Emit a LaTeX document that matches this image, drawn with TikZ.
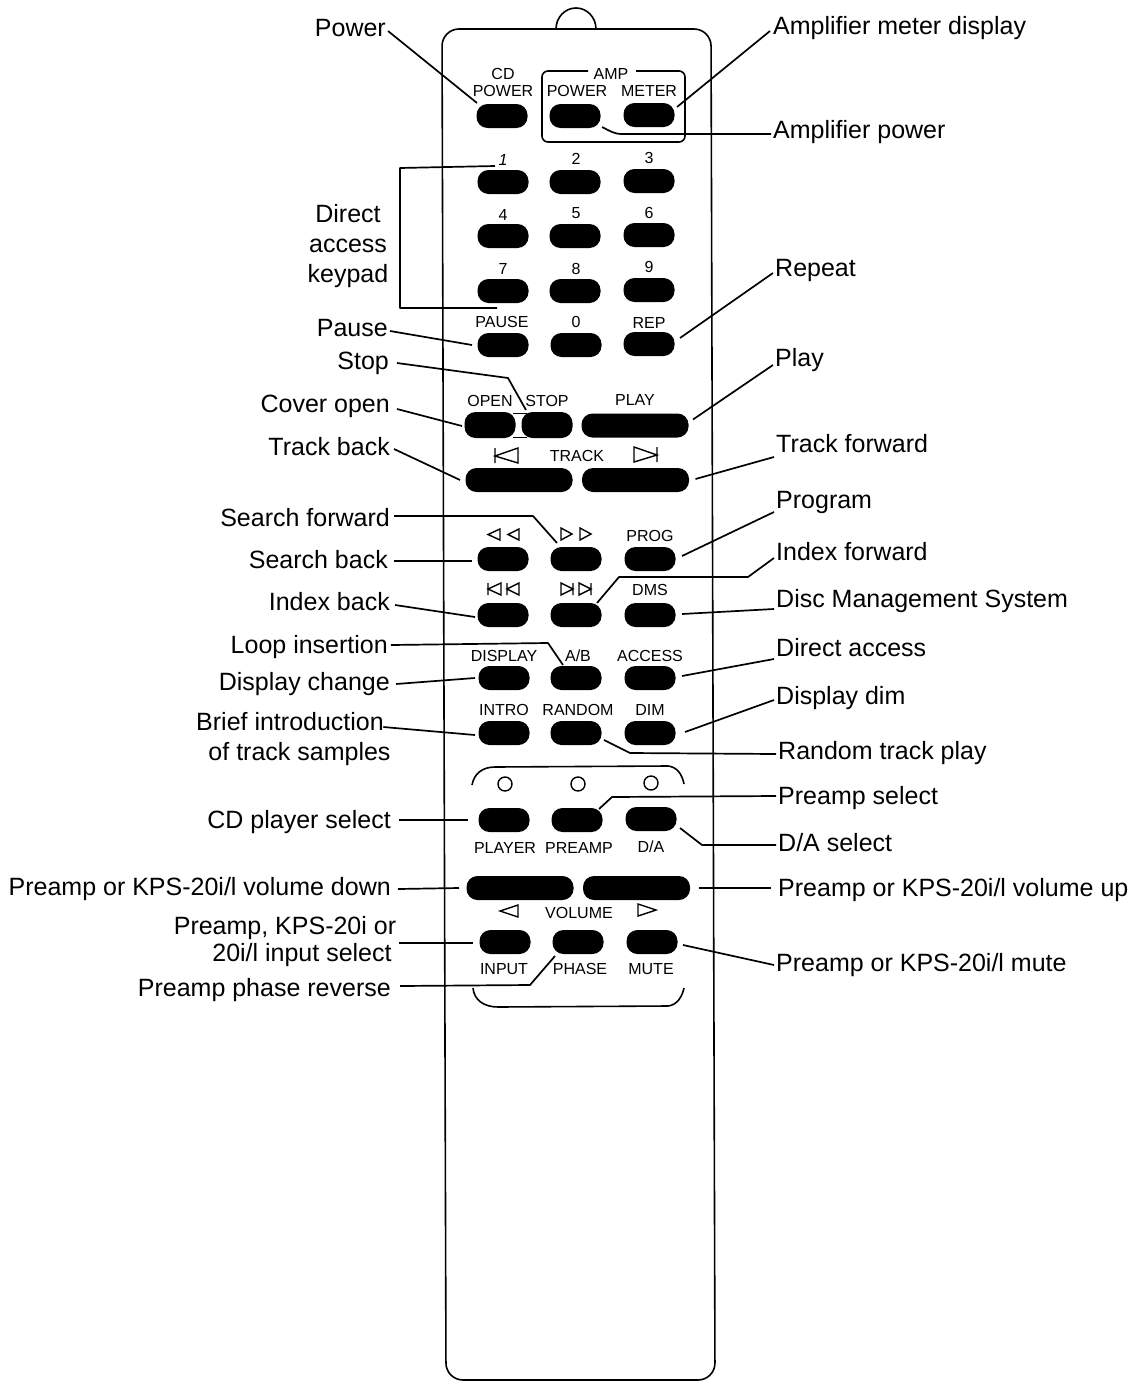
\documentclass[tikz,border=0pt]{standalone}
\usepackage{fontspec}
\setmainfont{Liberation Sans}
\tikzset{
  btn/.style={fill=black,draw=none,rounded corners=11pt,inner sep=0pt,minimum height=24pt,minimum width=51pt},
  wbtn/.style={btn,minimum width=107pt},
  lab/.style={font=\fontsize{25}{30}\selectfont,inner sep=1pt,text height=20pt,text depth=3pt,align=center},
  labl/.style={lab,anchor=east},
  labr/.style={lab,anchor=west},
  keytxt/.style={font=\fontsize{16}{17}\selectfont,inner sep=0pt,text height=11.5pt,text depth=0pt},
  conn/.style={draw=black,line width=1.7pt,line join=round},
  outl/.style={draw=black,line width=1.6pt,line join=round},
  ico/.style={draw=black,line width=1.4pt,line join=miter}
}
\begin{document}
\begin{tikzpicture}[x=1pt,y=-1pt]
\useasboundingbox (0,0) rectangle (1136,1381);
% body
\draw[outl,rounded corners=17pt] (442,29) -- (711,29) -- (715,1380) -- (446,1380) -- cycle;
\draw[outl] (556,29) arc[start angle=180,end angle=0,x radius=20,y radius=-21];
% amp box
\draw[outl,rounded corners=6pt] (588,71) -- (542,71) -- (542,142) -- (685,142) -- (685,71) -- (636,71);
% brackets
\draw[outl] (472,785) .. controls (474,774) and (482,767) .. (495,767) -- (668,766) .. controls (677,767) and (682,774) .. (684,784);
\draw[outl] (473,988) .. controls (474,1000) and (484,1007) .. (498,1007) -- (668,1006) .. controls (677,1005) and (682,997) .. (684,988);
% LEDs
\node[draw=black,line width=1.4pt,circle,minimum size=14pt,inner sep=0pt] (led1) at (505,784) {};
\node[draw=black,line width=1.4pt,circle,minimum size=14pt,inner sep=0pt] (led2) at (578,784) {};
\node[draw=black,line width=1.4pt,circle,minimum size=14pt,inner sep=0pt] (led3) at (651,783) {};
% buttons
\node[btn] (bcd) at (502,116) {};
\node[btn] (bamp) at (575,116) {};
\node[btn] (bmet) at (649,115) {};
\node[btn] (b1) at (503,182) {};
\node[btn] (b2) at (575,182) {};
\node[btn] (b3) at (649,181) {};
\node[btn] (b4) at (503,236) {};
\node[btn] (b5) at (575,236) {};
\node[btn] (b6) at (649,235) {};
\node[btn] (b7) at (503,291) {};
\node[btn] (b8) at (575,291) {};
\node[btn] (b9) at (649,290) {};
\node[btn] (bpause) at (503,345) {};
\node[btn] (b0) at (576,345) {};
\node[btn] (brep) at (649,344) {};
\draw[line width=1pt] (513,413.5) -- (527,413.5) (513,437.5) -- (527,437.5);
\node[btn,minimum height=26pt] (bopen) at (490,425) {};
\node[btn,minimum height=26pt] (bstop) at (547,425) {};
\node[wbtn] (bplay) at (635,425.5) {};
\node[wbtn] (btb) at (519,480) {};
\node[wbtn] (btf) at (635.5,480) {};
\node[btn] (bsb) at (503,559) {};
\node[btn] (bsf) at (576,559) {};
\node[btn] (bprog) at (650,559) {};
\node[btn] (bib) at (503,615) {};
\node[btn] (bif) at (576,615) {};
\node[btn] (bdms) at (650,615) {};
\node[btn] (bdisp) at (504,678) {};
\node[btn] (bab) at (576,678) {};
\node[btn] (bacc) at (650,678) {};
\node[btn] (bintro) at (504,733) {};
\node[btn] (brand) at (576,733) {};
\node[btn] (bdim) at (650,733) {};
\node[btn] (bplayer) at (504,820) {};
\node[btn] (bpre) at (577,820) {};
\node[btn] (bda) at (651,819) {};
\node[wbtn] (bvd) at (520,888) {};
\node[wbtn] (bvu) at (636.5,888) {};
\node[btn] (binp) at (505,942) {};
\node[btn] (bpha) at (578,942) {};
\node[btn] (bmut) at (652,942) {};
% key texts
\node[keytxt,anchor=base] (t01) at (503,79) {CD};
\node[keytxt,anchor=base] (t02) at (503,96) {POWER};
\node[keytxt,anchor=base] (t03) at (611,80) {AMP};
\node[keytxt,anchor=base] (t04) at (577,96) {POWER};
\node[keytxt,anchor=base] (t05) at (649,96) {METER};
\node[keytxt,anchor=base] (t06) at (503,165) {\itshape 1};
\node[keytxt,anchor=base] (t07) at (576,164) {2};
\node[keytxt,anchor=base] (t08) at (649,163) {3};
\node[keytxt,anchor=base] (t09) at (503,220) {4};
\node[keytxt,anchor=base] (t10) at (576,218) {5};
\node[keytxt,anchor=base] (t11) at (649,218) {6};
\node[keytxt,anchor=base] (t12) at (503,274) {7};
\node[keytxt,anchor=base] (t13) at (576,274) {8};
\node[keytxt,anchor=base] (t14) at (649,272) {9};
\node[keytxt,anchor=base] (t15) at (502,327) {PAUSE};
\node[keytxt,anchor=base] (t16) at (576,327) {0};
\node[keytxt,anchor=base] (t17) at (649,328) {REP};
\node[keytxt,anchor=base] (t18) at (490,406) {OPEN};
\node[keytxt,anchor=base] (t19) at (547,406) {STOP};
\node[keytxt,anchor=base] (t20) at (635,405) {PLAY};
\node[keytxt,anchor=base] (t21) at (577,461) {TRACK};
\node[keytxt,anchor=base] (t22) at (650,541) {PROG};
\node[keytxt,anchor=base] (t23) at (650,595) {DMS};
\node[keytxt,anchor=base] (t24) at (504,661) {DISPLAY};
\node[keytxt,anchor=base] (t25) at (578,661) {A/B};
\node[keytxt,anchor=base] (t26) at (650,661) {ACCESS};
\node[keytxt,anchor=base] (t27) at (504,715) {INTRO};
\node[keytxt,anchor=base] (t28) at (578,715) {RANDOM};
\node[keytxt,anchor=base] (t29) at (650,715) {DIM};
\node[keytxt,anchor=base] (t30) at (505,853) {PLAYER};
\node[keytxt,anchor=base] (t31) at (579,853) {PREAMP};
\node[keytxt,anchor=base] (t32) at (651,852) {D/A};
\node[keytxt,anchor=base] (t33) at (579,918) {VOLUME};
\node[keytxt,anchor=base] (t34) at (504,974) {INPUT};
\node[keytxt,anchor=base] (t35) at (580,974) {PHASE};
\node[keytxt,anchor=base] (t36) at (651,974) {MUTE};
% icons
\draw[ico] (495,448) -- (495,463) (495,456) -- (518,448) -- (518,463) -- cycle;
\draw[ico] (634,447) -- (657,455) -- (634,462) -- cycle (657,447) -- (657,462);
\draw[ico] (488,534.5) -- (500,529) -- (500,540) -- cycle (508,534.5) -- (519,529) -- (519,540) -- cycle;
\draw[ico] (561,528) -- (572,534) -- (561,540) -- cycle (580,528) -- (591,534) -- (580,540) -- cycle;
\draw[ico] (488,583) -- (488,595) (488,589) -- (501,583) -- (501,595) -- cycle (507,583) -- (507,595) (507,589) -- (519,583) -- (519,595) -- cycle;
\draw[ico] (561,583) -- (573,589) -- (561,595) -- cycle (573,583) -- (573,595) (579,583) -- (591,589) -- (579,595) -- cycle (591,583) -- (591,595);
\draw[ico] (500,911) -- (518,905) -- (518,917) -- cycle;
\draw[ico] (638,904) -- (656,910) -- (638,916) -- cycle;
% labels left
\node[labl] (lpow) at (387,28) {Power};
\node[lab] (lkey) at (348,274) {Direct\\access\\keypad};
\node[labl] (lpause) at (389,328) {Pause};
\node[labl] (lstop) at (390,361) {Stop};
\node[labl] (lcov) at (391,404) {Cover open};
\node[labl] (ltb) at (391,447) {Track back};
\node[labl] (lsf) at (391,518) {Search forward};
\node[labl] (lsb) at (389,560) {Search back};
\node[labl] (lib) at (391,602) {Index back};
\node[labl] (lloop) at (389,645) {Loop insertion};
\node[labl] (ldc) at (391,682) {Display change};
\node[lab] (lbrief) at (290,752) {Brief introduction\\\hspace*{19pt}of track samples};
\node[lab] (linp) at (285,953) {Preamp, KPS-20i or\\[-3pt]\hspace*{34pt}20i/l input select};
\node[labl] (lcdp) at (392,820) {CD player select};
\node[labl] (lvd) at (392,887) {Preamp or KPS-20i/l volume down};
\node[labl] (lph) at (392,988) {Preamp phase reverse};
% labels right
\node[labr] (rmet) at (772,26) {Amplifier meter display};
\node[labr] (ramp) at (772,130) {Amplifier power};
\node[labr] (rrep) at (774,268) {Repeat};
\node[labr] (rplay) at (774,358) {Play};
\node[labr] (rtf) at (775,444) {Track forward};
\node[labr] (rprog) at (775,500) {Program};
\node[labr] (rif) at (775,552) {Index forward};
\node[labr] (rdms) at (775,599) {Disc Management System};
\node[labr] (racc) at (775,648) {Direct access};
\node[labr] (rdim) at (775,696) {Display dim};
\node[labr] (rrand) at (777,751) {Random track play};
\node[labr] (rpre) at (777,796) {Preamp select};
\node[labr] (rda) at (777,843) {D/A select};
\node[labr] (rvu) at (777,888) {Preamp or KPS-20i/l volume up};
\node[labr] (rmut) at (775,963) {Preamp or KPS-20i/l mute};
% connectors left
\draw[conn] ([shift={(1,3)}]lpow.east) -- ([shift={(-25,-13)}]bcd.center);
\draw[conn] ([shift={(-8,-16)}]b1.center) -- (400,168) -- (400,308) -- ([shift={(-6,17)}]b7.center);
\draw[conn] ([shift={(1,3)}]lpause.east) -- ([shift={(-31,0)}]bpause.center);
\draw[conn] ([shift={(7,2)}]lstop.east) -- ([shift={(-39,-47)}]bstop.center) -- ([shift={(-21,-15)}]bstop.center);
\draw[conn] ([shift={(6,5)}]lcov.east) -- ([shift={(-28,1)}]bopen.center);
\draw[conn] ([shift={(3,2)}]ltb.east) -- ([shift={(-59,0)}]btb.center);
\draw[conn] ([shift={(3,-2)}]lsf.east) -- ([shift={(-43,-43)}]bsf.center) -- ([shift={(-19,-16)}]bsf.center);
\draw[conn] ([shift={(5,1)}]lsb.east) -- ([shift={(-31,2)}]bsb.center);
\draw[conn] ([shift={(4,3)}]lib.east) -- ([shift={(-28,2)}]bib.center);
\draw[conn] ([shift={(2,0)}]lloop.east) -- ([shift={(-28,-35)}]bab.center) -- ([shift={(-13,-13)}]bab.center);
\draw[conn] ([shift={(5,2)}]ldc.east) -- ([shift={(-29,0)}]bdisp.center);
\draw[conn] ([shift={(-95,-6)}]bintro.west) -- ([shift={(-29,2)}]bintro.center);
\draw[conn] ([shift={(7,0)}]lcdp.east) -- ([shift={(-36,0)}]bplayer.center);
\draw[conn] ([shift={(6,2)}]lvd.east) -- ([shift={(-61,0)}]bvd.center);
\draw[conn] ([shift={(-80,1)}]binp.west) -- ([shift={(-32,1)}]binp.center);
\draw[conn] ([shift={(8,-2)}]lph.east) -- ([shift={(-48,43)}]bpha.center) -- ([shift={(-23,14)}]bpha.center);
% connectors right
\draw[conn] ([shift={(-2,5)}]rmet.west) -- ([shift={(28,-8)}]bmet.center);
\draw[conn] ([shift={(-1,4)}]ramp.west) -- (622,134) .. controls (614,134) and (610,131) .. ([shift={(27,11)}]bamp.center);
\draw[conn] ([shift={(-1,5)}]rrep.west) -- ([shift={(31,-6)}]brep.center);
\draw[conn] ([shift={(-1,7)}]rplay.west) -- ([shift={(58,-6)}]bplay.center);
\draw[conn] ([shift={(-1,13)}]rtf.west) -- ([shift={(60,-1)}]btf.center);
\draw[conn] ([shift={(-1,12)}]rprog.west) -- ([shift={(32,-3)}]bprog.center);
\draw[conn] ([shift={(-1,6)}]rif.west) -- (748,577) -- (619,577) -- ([shift={(21,-12)}]bif.center);
\draw[conn] ([shift={(-1,10)}]rdms.west) -- ([shift={(32,-1)}]bdms.center);
\draw[conn] ([shift={(-1,11)}]racc.west) -- ([shift={(32,-2)}]bacc.center);
\draw[conn] ([shift={(-1,4)}]rdim.west) -- ([shift={(35,-1)}]bdim.center);
\draw[conn] ([shift={(-1,3)}]rrand.west) -- (630,753) -- ([shift={(28,7)}]brand.center);
\draw[conn] ([shift={(-1,0)}]rpre.west) -- (612,797) -- ([shift={(22,-11)}]bpre.center);
\draw[conn] ([shift={(-1,2)}]rda.west) -- (702,845) -- ([shift={(29,9)}]bda.center);
\draw[conn] ([shift={(-6,0)}]rvu.west) -- ([shift={(62,0)}]bvu.center);
\draw[conn] ([shift={(-1,2)}]rmut.west) -- ([shift={(31,3)}]bmut.center);
\end{tikzpicture}
\end{document}
